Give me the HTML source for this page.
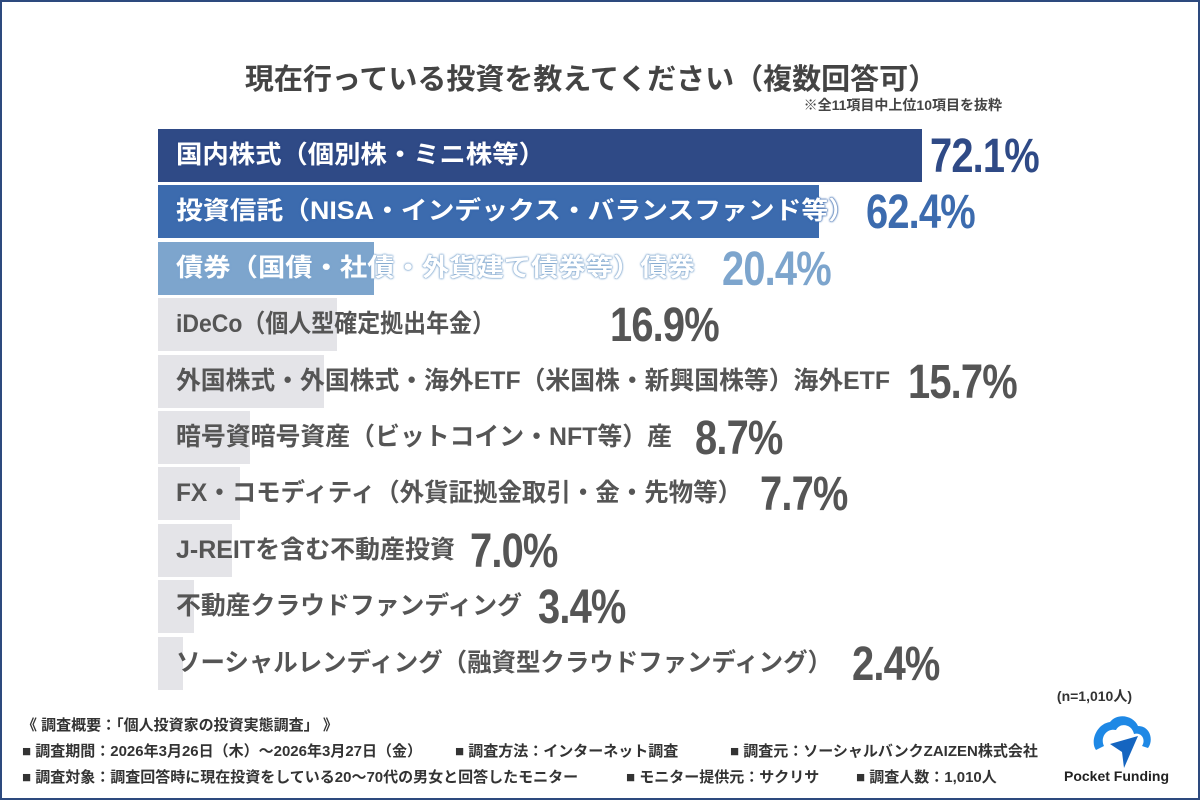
<!DOCTYPE html>
<html><head><meta charset="utf-8">
<style>
body{margin:0;width:1200px;height:800px;overflow:hidden;background:#fff;font-family:"Liberation Sans","Noto Sans CJK JP",sans-serif;}
#frame{position:absolute;left:0;top:0;width:1196px;height:796px;border:2px solid #2d4a7e;}
.abs{position:absolute;white-space:nowrap;}
#title{left:0;width:1182px;top:56px;text-align:center;font-size:29px;font-weight:bold;color:#444;}
#note{right:198px;top:95px;font-size:14px;font-weight:bold;color:#444;}
.lbl{font-size:25px;font-weight:bold;line-height:1;transform-origin:left center;}
.val{font-size:48px;font-weight:bold;line-height:1;transform:scaleX(0.83);transform-origin:left center;letter-spacing:-1px;}
.foot{font-size:15px;font-weight:bold;color:#333;}
</style></head><body>
<div id="frame"></div>
<div id="title" class="abs">現在行っている投資を教えてください（複数回答可）</div>
<div id="note" class="abs">※全11項目中上位10項目を抜粋</div>
<div id="chart"></div>
<div class="abs" style="right:68px;top:686px;font-size:14px;font-weight:bold;color:#333">(n=1,010人)</div>
<div class="abs foot" style="left:22px;top:714px">《 調査概要：「個人投資家の投資実態調査」 》</div>
<div class="abs foot" style="left:22px;top:740px">■ 調査期間：2026年3月26日（木）～2026年3月27日（金）</div>
<div class="abs foot" style="left:455px;top:740px">■ 調査方法：インターネット調査</div>
<div class="abs foot" style="left:730px;top:740px">■ 調査元：ソーシャルバンクZAIZEN株式会社</div>
<div class="abs foot" style="left:22px;top:766px">■ 調査対象：調査回答時に現在投資をしている20～70代の男女と回答したモニター</div>
<div class="abs foot" style="left:626px;top:766px">■ モニター提供元：サクリサ</div>
<div class="abs foot" style="left:856px;top:766px">■ 調査人数：1,010人</div>
<svg class="abs" style="left:1088px;top:712px" width="70" height="60">
<path d="M8 38 C2 30 8 12 22 10 C30 0 46 4 50 14 C62 14 66 28 60 36 L54 34 C58 28 54 20 46 22 C44 12 32 10 28 18 C18 16 12 26 16 34 Z" fill="#1e88e5"/>
<path d="M22 32 L50 24 L36 56 L34 40 Z" fill="#1565c0"/>
</svg>
<div class="abs" style="left:1064px;top:768px;font-size:14px;font-weight:bold;color:#222">Pocket Funding</div>
<script>
const categories=["国内株式（個別株・ミニ株等）","投資信託（NISA・インデックス・バランスファンド等）","債券（国債・社債・外貨建て債券等）債券","iDeCo（個人型確定拠出年金）","外国株式・外国株式・海外ETF（米国株・新興国株等）海外ETF","暗号資暗号資産（ビットコイン・NFT等）産","FX・コモディティ（外貨証拠金取引・金・先物等）","J-REITを含む不動産投資","不動産クラウドファンディング","ソーシャルレンディング（融資型クラウドファンディング）"];
const values=[72.1,62.4,20.4,16.9,15.7,8.7,7.7,7.0,3.4,2.4];
const valueLabels=["72.1%","62.4%","20.4%","16.9%","15.7%","8.7%","7.7%","7.0%","3.4%","2.4%"];
const labelEnds=[930,866,722,610,908,695,760,470,538,852];
const textEnds=[545,855,695,495,890,672,742,455,522,832];
const barColors=["#2f4a86","#3c6bae","#7da5cd","#e4e4e8","#e4e4e8","#e4e4e8","#e4e4e8","#e4e4e8","#e4e4e8","#e4e4e8"];
const valColors=["#2f4a86","#3c6bae","#7da5cd","#555","#555","#555","#555","#555","#555","#555"];
const x0=158,scale=(922-158)/72.1,top0=129,pitch=56.4,bh=53;
const xs=v=>v*scale;
const chart=document.getElementById('chart');
values.forEach((v,i)=>{
 const y=top0+i*pitch;
 const b=document.createElement('div');
 b.className='abs';
 
 
 b.style.cssText=`left:${x0}px;top:${y}px;width:${xs(v)}px;height:${bh}px;background:${barColors[i]}`;
 chart.appendChild(b);
 const l=document.createElement('div');
 l.className='abs lbl';
 
 
 l.textContent=categories[i];
 let st=`left:176px;top:${y+14}px;color:${i<3?'#fff':'#555'};`;
 if(i<3) st+=`text-shadow:0 0 2px ${barColors[i]},0 0 2px ${barColors[i]},0 0 1px ${barColors[i]};`;
 l.style.cssText=st;
 chart.appendChild(l);
 const w=l.getBoundingClientRect().width;
 l.style.transform=`scaleX(${(textEnds[i]-176)/w})`;
 const t=document.createElement('div');
 t.className='abs val';
 
 
 t.textContent=valueLabels[i];
 t.style.cssText=`left:${labelEnds[i]}px;top:${y+4}px;color:${valColors[i]}`;
 chart.appendChild(t);
});
</script>
</body></html>
